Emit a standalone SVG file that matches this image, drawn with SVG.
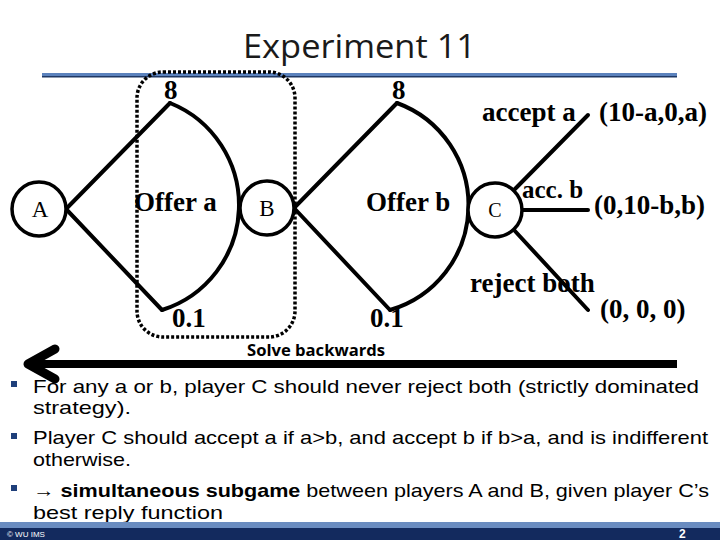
<svg xmlns="http://www.w3.org/2000/svg" width="720" height="540" viewBox="0 0 720 540">
<style>
.edge{fill:none;stroke:#000;stroke-width:4;stroke-linecap:round;stroke-linejoin:round}
.node{fill:#fff;stroke:#000;stroke-width:3.5}
.nl{font-family:"Liberation Serif","Times New Roman",serif;fill:#000;text-anchor:middle}
.lb{font-family:"Liberation Serif","Times New Roman",serif;font-weight:bold;fill:#000}
.body{font-family:"Liberation Sans","Open Sans",sans-serif;font-size:19px;fill:#000}
.bul{fill:#1f3f7a}
</style>
<rect width="720" height="540" fill="#fff"/>
<g id="title">
<text x="243" y="58" font-family="Open Sans, Liberation Sans, sans-serif" font-size="33" fill="#1a1a1a" textLength="233" lengthAdjust="spacingAndGlyphs">Experiment 11</text>
<rect x="42" y="73" width="635" height="3" fill="#5b82bd"/>
<rect x="42" y="76" width="635" height="1.5" fill="#1f3864"/>
</g>
<g id="connectors">
<line class="edge" x1="66" y1="209" x2="170" y2="103"/>
<line class="edge" x1="66" y1="209" x2="162" y2="310"/>
<path class="edge" d="M170,103 A110,110 0 0 1 162,310"/>
<line class="edge" x1="294" y1="208" x2="397" y2="103"/>
<line class="edge" x1="294" y1="208" x2="390" y2="310"/>
<path class="edge" d="M397,103 A109,109 0 0 1 390,310"/>
<line class="edge" x1="514" y1="190" x2="588" y2="115"/>
<line class="edge" x1="522" y1="210" x2="588" y2="210"/>
<line class="edge" x1="514" y1="230" x2="588" y2="310"/>
</g>
<g id="node-A"><circle class="node" cx="39" cy="209" r="27"/><text class="nl" x="40" y="217" font-size="23">A</text></g>
<g id="node-B"><circle class="node" cx="267" cy="208" r="27"/><text class="nl" x="267" y="216" font-size="23">B</text></g>
<g id="node-C"><circle class="node" cx="495" cy="210" r="27"/><text class="nl" x="495" y="217" font-size="20">C</text></g>
<g id="subgame-box">
<rect x="137" y="72" width="158" height="265" rx="26" ry="26" fill="none" stroke="#000" stroke-width="3.5" stroke-dasharray="3 2"/>
</g>
<g id="labels">
<text class="lb" x="164" y="99" font-size="27">8</text>
<text class="lb" x="392" y="99" font-size="27">8</text>
<text class="lb" x="134" y="211" font-size="27">Offer a</text>
<text class="lb" x="366" y="211" font-size="27">Offer b</text>
<text class="lb" x="172" y="327" font-size="27">0.1</text>
<text class="lb" x="370" y="327" font-size="27">0.1</text>
<text class="lb" x="482" y="121" font-size="27">accept a</text>
<text class="lb" x="599" y="121" font-size="27">(10-a,0,a)</text>
<text class="lb" x="522" y="198" font-size="25">acc. b</text>
<text class="lb" x="594" y="214" font-size="27">(0,10-b,b)</text>
<text class="lb" x="470" y="292" font-size="27">reject both</text>
<text class="lb" x="600" y="318" font-size="27">(0, 0, 0)</text>
</g>
<g id="solve-arrow">
<text x="247" y="356" font-family="Open Sans, Liberation Sans, sans-serif" font-weight="bold" font-size="16" fill="#000" textLength="138" lengthAdjust="spacingAndGlyphs">Solve backwards</text>
<line x1="30" y1="364" x2="677" y2="364" stroke="#000" stroke-width="8"/>
<path d="M55,349 L28,364 L55,379" fill="none" stroke="#000" stroke-width="9" stroke-linecap="round" stroke-linejoin="round"/>
</g>
<g id="bullets">
<rect class="bul" x="11" y="381" width="6" height="6"/>
<rect class="bul" x="11" y="433" width="6" height="6"/>
<rect class="bul" x="11" y="485" width="6" height="6"/>
<text class="body" x="33" y="393" textLength="666" lengthAdjust="spacingAndGlyphs">For any a or b, player C should never reject both (strictly dominated</text>
<text class="body" x="33" y="414" textLength="98" lengthAdjust="spacingAndGlyphs">strategy).</text>
<text class="body" x="33" y="444" textLength="675" lengthAdjust="spacingAndGlyphs">Player C should accept a if a&gt;b, and accept b if b&gt;a, and is indifferent</text>
<text class="body" x="33" y="466" textLength="98" lengthAdjust="spacingAndGlyphs">otherwise.</text>
<text class="body" x="33" y="497" textLength="676" lengthAdjust="spacingAndGlyphs">→ <tspan font-weight="bold">simultaneous subgame</tspan> between players A and B, given player C’s</text>
<text class="body" x="33" y="519" textLength="190" lengthAdjust="spacingAndGlyphs">best reply function</text>
</g>
<g id="footer">
<rect x="0" y="522" width="720" height="6" fill="#6a8cc0"/>
<rect x="0" y="528" width="720" height="12" fill="#132a5e"/>
<text x="7" y="537" font-family="Liberation Sans, sans-serif" font-size="8" fill="#fff">© WU IMS</text>
<text x="679" y="538" font-family="Liberation Sans, sans-serif" font-weight="bold" font-size="12" fill="#fff">2</text>
</g>
</svg>
